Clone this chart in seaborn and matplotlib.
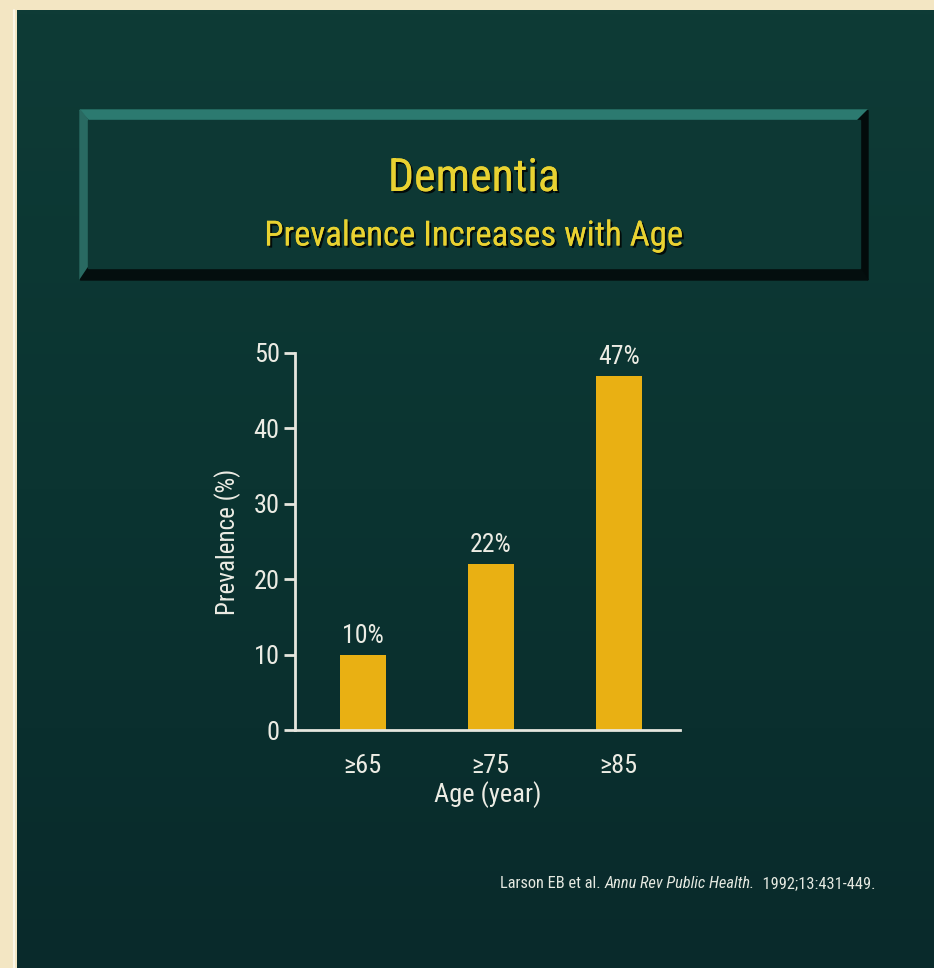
import numpy as np
import matplotlib
matplotlib.use("Agg")
import matplotlib.pyplot as plt
import matplotlib.patheffects as pe
from matplotlib.patches import Polygon, Rectangle
from matplotlib.colors import LinearSegmentedColormap
import seaborn as sns

# Data
age_groups = ["≥65", "≥75", "≥85"]
prevalence = [10, 22, 47]
y_ticks = [0, 10, 20, 30, 40, 50]

title = "Dementia"
subtitle = "Prevalence Increases with Age"
x_label = "Age (year)"
y_label = "Prevalence (%)"

sns.set_theme(style="white")
plt.rcParams["font.family"] = ["Roboto Condensed", "DejaVu Sans"]

W, H = 934, 968
fig = plt.figure(figsize=(W / 100, H / 100), dpi=100, facecolor="#f3e6c3")

# Slide background (pixel coordinates)
bg = fig.add_axes([0, 0, 1, 1])
bg.set_xlim(0, W)
bg.set_ylim(H, 0)
bg.axis("off")
cmap = LinearSegmentedColormap.from_list("slide", ["#0e3b36", "#0b3431", "#092a2b"])
grad = np.linspace(0, 1, 256).reshape(-1, 1)
bg.imshow(grad, cmap=cmap, aspect="auto", extent=[17, W, H, 10], zorder=0)
bg.plot([14, 14], [10, H], color="#fbf6e6", lw=1.5, zorder=1)

# Bevelled title box
x0, x1, y0, y1, b = 80, 868, 110, 280, 10
bg.add_patch(Polygon([(x0, y0), (x1, y0), (x1 - b, y0 + b), (x0 + b, y0 + b)],
                     color="#2c7a70", zorder=2))
bg.add_patch(Polygon([(x0, y0), (x0 + 8, y0 + b), (x0 + 8, y1 - 12), (x0, y1)],
                     color="#296a62", zorder=2))
bg.add_patch(Polygon([(x1, y0), (x1, y1), (x1 - 8, y1 - 12), (x1 - b, y0 + b)],
                     color="#030b0b", zorder=2))
bg.add_patch(Polygon([(x0, y1), (x1, y1), (x1 - 8, y1 - 12), (x0 + 8, y1 - 12)],
                     color="#040e0e", zorder=2))
bg.add_patch(Rectangle((x0 + 8, y0 + b), x1 - x0 - 16, y1 - y0 - b - 12,
                       color="#0d3834", zorder=2))

shadow = [pe.withSimplePatchShadow(offset=(1.5, -1.5), shadow_rgbFace="#000000", alpha=0.8), pe.Normal()]
bg.text(474, 178, title, color="#e9d231", fontsize=33, ha="center", va="center",
        zorder=3, path_effects=shadow)
bg.text(474, 236, subtitle, color="#e9d231", fontsize=25, ha="center", va="center",
        zorder=3, path_effects=shadow)

# Chart
ax = fig.add_axes([295 / W, 1 - 730 / H, 385 / W, 377 / H])
ax.patch.set_alpha(0)
sns.barplot(x=age_groups, y=prevalence, color="#e9b013", width=0.36,
            saturation=1, linewidth=0, ax=ax)
ax.bar_label(ax.containers[0], labels=[f"{v}%" for v in prevalence], padding=5,
             color="#ecece4", fontsize=18.5)

ax.set_xlim(-0.53, 2.48)
ax.set_ylim(0, 50)
ax.set_yticks(y_ticks)
for s in ["top", "right"]:
    ax.spines[s].set_visible(False)
for s in ["left", "bottom"]:
    ax.spines[s].set_color("#e6e6de")
    ax.spines[s].set_linewidth(2)
ax.tick_params(axis="y", left=True, length=8, width=2, color="#e6e6de",
               labelcolor="#ecece4", labelsize=19, pad=3)
ax.tick_params(axis="x", bottom=False, labelcolor="#ecece4", labelsize=19, pad=11)

ax.set_xlabel(x_label, color="#ecece4", fontsize=19)
ax.xaxis.set_label_coords(0.5, -0.135)
ax.set_ylabel(y_label, color="#ecece4", fontsize=18)
ax.yaxis.set_label_coords(-0.14, 0.5)

# Citation with italic journal name
parts = [("Larson EB et al. ", "normal"), ("Annu Rev Public Health.", "italic"),
         ("  1992;13:431-449.", "normal")]
fig.canvas.draw()
renderer = fig.canvas.get_renderer()
xpos = 500
for txt, style in parts:
    t = bg.text(xpos, 884, txt, color="#e4e8e0", fontsize=11.8, style=style,
                ha="left", va="center", zorder=3)
    xpos += t.get_window_extent(renderer).width

fig.savefig("out.png", dpi=100, facecolor=fig.get_facecolor())
